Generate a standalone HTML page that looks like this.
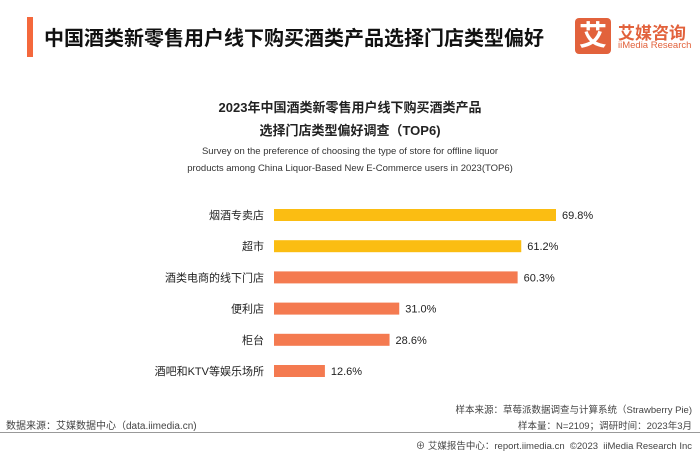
<!DOCTYPE html>
<html><head><meta charset="utf-8"><style>
body{margin:0;width:700px;height:455px;background:#fff;font-family:"Liberation Sans","Noto Sans CJK SC",sans-serif;position:relative;overflow:hidden;color:#222}
.a{position:absolute;white-space:nowrap}
</style></head><body>
<div class="a" style="left:27px;top:17px;width:6px;height:40px;background:#f4683c"></div>
<div class="a" style="left:44px;top:22px;font-size:20px;font-weight:bold;color:#111">中国酒类新零售用户线下购买酒类产品选择门店类型偏好</div>
<div class="a" style="left:575px;top:18px;width:36px;height:36px;background:#e2623c;border-radius:4px;color:#fff;font-size:28px;font-weight:bold;text-align:center;line-height:36px">艾</div>
<div class="a" style="left:618px;top:19px;font-size:17px;font-weight:bold;color:#e2623c">艾媒咨询</div>
<div class="a" style="left:618px;top:40px;font-size:9.5px;color:#e2623c">iiMedia Research</div>
<div class="a" style="left:0;width:700px;text-align:center;top:96px;font-size:13px;font-weight:bold;line-height:23px;white-space:normal">2023年中国酒类新零售用户线下购买酒类产品<br>选择门店类型偏好调查（TOP6)</div>
<div class="a" style="left:0;width:700px;text-align:center;top:143px;font-size:9.5px;line-height:17px;color:#333;white-space:normal">Survey on the preference of choosing the type of store for offline liquor<br>products among China Liquor-Based New E-Commerce users in 2023(TOP6)</div>
<svg id="chart" class="a" style="left:0;top:0" width="700" height="455"></svg>
<div class="a" style="left:6px;top:417px;font-size:10px;color:#444">数据来源：艾媒数据中心（data.iimedia.cn)</div>
<div class="a" style="right:8px;top:402px;font-size:9.5px;color:#444">样本来源：草莓派数据调查与计算系统（Strawberry Pie)</div>
<div class="a" style="right:8px;top:418px;font-size:9.5px;color:#444">样本量：N=2109；调研时间：2023年3月</div>
<div class="a" style="left:0;top:432px;width:700px;height:1px;background:#999"></div>
<div class="a" style="right:8px;top:438px;font-size:9.5px;color:#444">⊕ 艾媒报告中心：report.iimedia.cn &nbsp;©2023 &nbsp;iiMedia Research Inc</div>
<script>
const categories=["烟酒专卖店","超市","酒类电商的线下门店","便利店","柜台","酒吧和KTV等娱乐场所"];
const values=[69.8,61.2,60.3,31.0,28.6,12.6];
const colors=["#fbbd12","#fbbd12","#f47a50","#f47a50","#f47a50","#f47a50"];
const svg=document.getElementById('chart');
const NS='http://www.w3.org/2000/svg';
const x0=274,pxPer=282/69.8;
const xs=v=>x0+v*pxPer;
const ys=i=>215+i*31.2;
categories.forEach((c,i)=>{
 const r=document.createElementNS(NS,'rect');
 r.setAttribute('x',x0);r.setAttribute('y',ys(i)-6);r.setAttribute('width',xs(values[i])-x0);r.setAttribute('height',12);r.setAttribute('fill',colors[i]);
 
 
 svg.appendChild(r);
 const l=document.createElementNS(NS,'text');
 l.setAttribute('x',264);l.setAttribute('y',ys(i)+4);l.setAttribute('text-anchor','end');l.setAttribute('font-size','11');l.setAttribute('fill','#222');l.textContent=c;
 
 
 svg.appendChild(l);
 const v=document.createElementNS(NS,'text');
 v.setAttribute('x',xs(values[i])+6);v.setAttribute('y',ys(i)+4);v.setAttribute('font-size','11');v.setAttribute('fill','#222');v.textContent=values[i].toFixed(1)+'%';
 
 
 svg.appendChild(v);
});
</script>
</body></html>
